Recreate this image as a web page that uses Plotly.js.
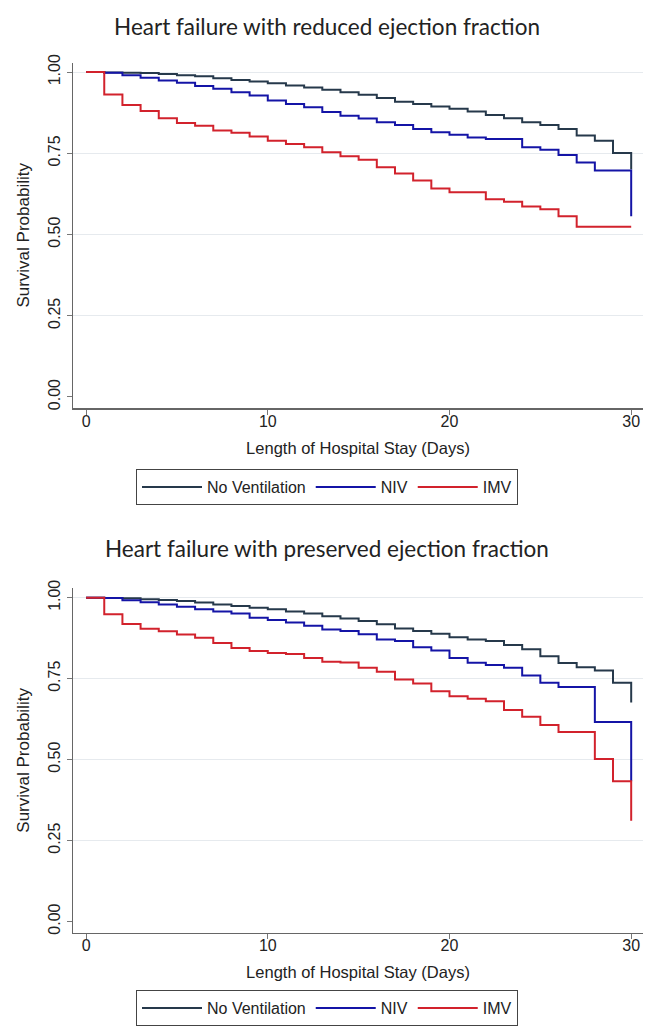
<!DOCTYPE html>
<html>
<head>
<meta charset="utf-8">
<script src="https://cdn.plot.ly/plotly-3.0.1.min.js"></script>
<style>html,body{margin:0;padding:0;background:#fff;}#chart{width:654px;height:1027px;}</style>
</head>
<body>
<div id="chart"></div>
<script>
// Days of hospital stay
var days = [0,1,2,3,4,5,6,7,8,9,10,11,12,13,14,15,16,17,18,19,20,21,22,23,24,25,26,27,28,29,30];

// Heart failure with reduced ejection fraction (HFrEF)
var hfrefNone = [1.000,0.999,0.998,0.997,0.994,0.990,0.987,0.981,0.976,0.971,0.966,0.959,0.953,0.946,0.938,0.930,0.920,0.909,0.902,0.894,0.887,0.879,0.868,0.858,0.846,0.837,0.825,0.805,0.789,0.751,0.700];
var hfrefNIV  = [1.000,0.998,0.990,0.983,0.974,0.967,0.957,0.949,0.938,0.928,0.913,0.902,0.892,0.877,0.866,0.857,0.846,0.837,0.825,0.815,0.807,0.799,0.794,0.794,0.769,0.761,0.745,0.722,0.697,0.697,0.556];
var hfrefIMV  = [1.000,0.931,0.899,0.880,0.858,0.843,0.835,0.820,0.813,0.802,0.789,0.779,0.769,0.753,0.741,0.730,0.707,0.688,0.666,0.642,0.630,0.630,0.609,0.601,0.586,0.578,0.556,0.524,0.524,0.524,0.524];

// Heart failure with preserved ejection fraction (HFpEF)
var hfpefNone = [1.000,0.999,0.998,0.995,0.993,0.990,0.985,0.979,0.974,0.969,0.964,0.957,0.951,0.943,0.936,0.928,0.918,0.905,0.897,0.889,0.878,0.871,0.866,0.854,0.841,0.819,0.798,0.785,0.775,0.737,0.676];
var hfpefNIV  = [1.000,0.999,0.992,0.986,0.979,0.972,0.964,0.957,0.951,0.938,0.931,0.923,0.913,0.902,0.897,0.887,0.871,0.866,0.847,0.837,0.814,0.799,0.792,0.784,0.760,0.737,0.724,0.724,0.616,0.616,0.433];
var hfpefIMV  = [1.000,0.949,0.919,0.904,0.896,0.886,0.876,0.860,0.845,0.835,0.829,0.826,0.814,0.802,0.800,0.784,0.771,0.747,0.735,0.711,0.696,0.688,0.680,0.653,0.632,0.607,0.585,0.585,0.502,0.433,0.311];

var groupNames = ['No Ventilation', 'NIV', 'IMV'];
var groupColors = ['#26394b', '#1414a6', '#d2222c'];
var chartTitles = ['Heart failure with reduced ejection fraction', 'Heart failure with preserved ejection fraction'];
var xTitle = 'Length of Hospital Stay (Days)';
var yTitle = 'Survival Probability';
var yTickVals = [0, 0.25, 0.5, 0.75, 1];
var yTickText = ['0.00', '0.25', '0.50', '0.75', '1.00'];
var xTickVals = [0, 10, 20, 30];

var topSeries = [hfrefNone, hfrefNIV, hfrefIMV];
var botSeries = [hfpefNone, hfpefNIV, hfpefIMV];

var traces = [];
topSeries.forEach(function (s, i) {
  traces.push({x: days, y: s, type: 'scatter', mode: 'lines', line: {shape: 'hv', color: groupColors[i], width: 2},
    name: groupNames[i], xaxis: 'x', yaxis: 'y', legend: 'legend'});
});
botSeries.forEach(function (s, i) {
  traces.push({x: days, y: s, type: 'scatter', mode: 'lines', line: {shape: 'hv', color: groupColors[i], width: 2},
    name: groupNames[i], xaxis: 'x2', yaxis: 'y2', legend: 'legend2'});
});

var FONT = '"Liberation Sans", Arial, sans-serif';
var H = 1027;
var L = 73, PW = 570;
function py(px) { return 1 - px / H; }
function px2x(px) { return (px - L) / PW; }

function xAx(anchor) {
  return {
    anchor: anchor, domain: [0, 1], range: [-0.72, 30.65],
    tickvals: xTickVals, ticks: 'outside', ticklen: 5, tickcolor: '#777', tickwidth: 1,
    ticklabelstandoff: -7,
    showline: true, linecolor: '#666', linewidth: 1.5, showgrid: false, zeroline: false,
    tickfont: {family: FONT, size: 16, color: '#222'},
    title: {text: xTitle, font: {family: FONT, size: 16.5, color: '#222'}, standoff: 13}
  };
}
function yAx(anchor, dom) {
  return {
    anchor: anchor, domain: dom, range: [-0.034, 1.029],
    tickvals: yTickVals, ticktext: yTickText, tickangle: -90,
    ticks: 'outside', ticklen: 5, tickcolor: '#777', tickwidth: 1,
    showline: true, linecolor: '#666', linewidth: 1.5, showgrid: false, zeroline: false,
    minor: {tickvals: [0.25, 0.5, 0.75, 1], showgrid: true, gridcolor: '#e6eaee', gridwidth: 1, ticks: ''},
    tickfont: {family: FONT, size: 16, color: '#222'},
    title: {text: yTitle, font: {family: FONT, size: 17, color: '#222'}, standoff: 12}
  };
}
function leg(topPx) {
  return {
    orientation: 'h', x: px2x(136), xanchor: 'left', y: py(topPx), yanchor: 'top',
    bordercolor: '#444', borderwidth: 1, bgcolor: '#fff', itemwidth: 60,
    font: {family: FONT, size: 16, color: '#222'}, itemclick: false
  };
}

var layout = {
  width: 654, height: 1027,
  margin: {l: L, r: 654 - L - PW, t: 0, b: 0},
  paper_bgcolor: '#fff', plot_bgcolor: '#fff',
  showlegend: true,
  title: {text: chartTitles[0], font: {family: 'Lato, sans-serif', size: 22.5, color: '#222'},
    x: 0.5, xref: 'container', xanchor: 'center', y: py(27), yref: 'container', yanchor: 'middle'},
  xaxis: xAx('y'),
  yaxis: yAx('x', [py(408), py(62.7)]),
  xaxis2: xAx('y2'),
  yaxis2: yAx('x2', [py(932.5), py(588.3)]),
  legend: leg(469),
  legend2: leg(990),
  annotations: [{
    text: chartTitles[1], font: {family: 'Lato, sans-serif', size: 22.5, color: '#222'},
    xref: 'paper', x: px2x(327), xanchor: 'center', yref: 'paper', y: py(548), yanchor: 'middle', showarrow: false
  }]
};

Plotly.newPlot('chart', traces, layout, {displayModeBar: false, staticPlot: true});
</script>
</body>
</html>
